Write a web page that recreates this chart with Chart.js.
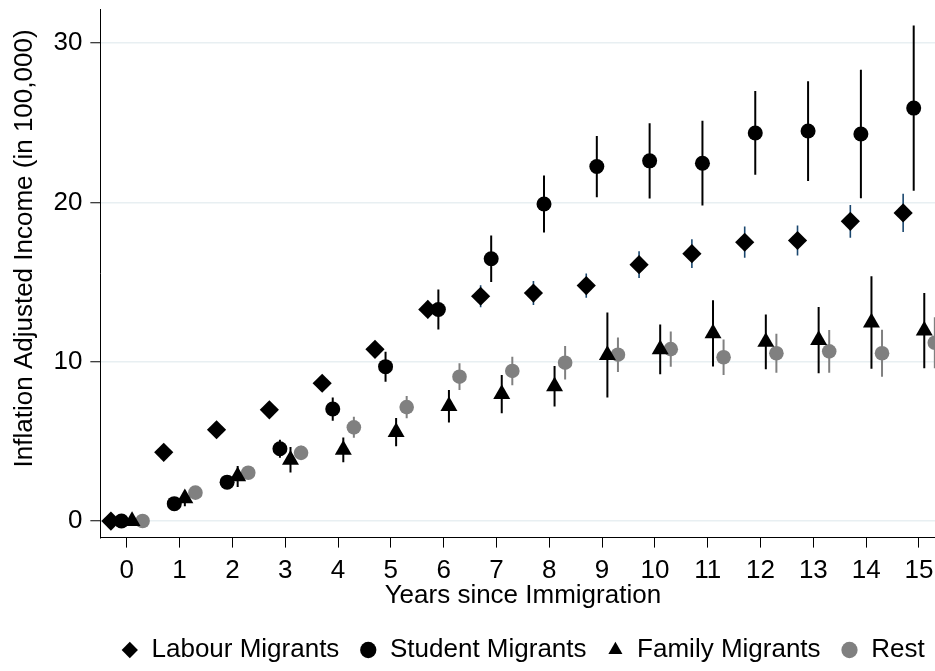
<!DOCTYPE html>
<html>
<head>
<meta charset="utf-8">
<script src="https://cdn.jsdelivr.net/npm/chart.js@4.4.1/dist/chart.umd.min.js"></script>
<style>
  html, body { margin: 0; padding: 0; background: #fff; overflow: hidden; }
  #wrap { position: relative; width: 960px; height: 680px; }
  canvas { display: block; }
</style>
</head>
<body>
<div id="wrap"><canvas id="chart" width="960" height="680"></canvas></div>
<script>
// Years since immigration
const years = [0, 1, 2, 3, 4, 5, 6, 7, 8, 9, 10, 11, 12, 13, 14, 15];

// Mean inflation adjusted income (in 100,000) and half-width of the confidence interval
const labourIncome  = [0, 4.31, 5.73, 6.98, 8.65, 10.78, 13.28, 14.11, 14.31, 14.78, 16.09, 16.78, 17.50, 17.61, 18.81, 19.34];
const labourCI      = [0, 0.30, 0.35, 0.40, 0.45, 0.50, 0.55, 0.69, 0.75, 0.76, 0.84, 0.90, 0.98, 0.94, 1.03, 1.20];

const studentIncome = [0, 1.09, 2.44, 4.54, 7.03, 9.69, 13.28, 16.46, 19.90, 22.25, 22.61, 22.46, 24.36, 24.48, 24.29, 25.92];
const studentCI     = [0, 0.30, 0.40, 0.56, 0.73, 0.94, 1.25, 1.46, 1.79, 1.92, 2.36, 2.66, 2.63, 3.13, 4.03, 5.19];

const familyIncome  = [0, 1.42, 2.80, 3.84, 4.47, 5.58, 7.21, 7.97, 8.46, 10.42, 10.78, 11.78, 11.24, 11.36, 12.46, 11.95];
const familyCI      = [0, 0.50, 0.66, 0.80, 0.78, 0.88, 1.02, 1.20, 1.27, 2.67, 1.56, 2.08, 1.72, 2.08, 2.90, 2.36];

const restIncome    = [0, 1.78, 3.03, 4.28, 5.88, 7.15, 9.06, 9.42, 9.94, 10.44, 10.79, 10.28, 10.53, 10.65, 10.53, 11.19];
const restCI        = [0, 0.25, 0.35, 0.45, 0.66, 0.70, 0.84, 0.89, 1.05, 1.08, 1.10, 1.12, 1.22, 1.34, 1.48, 1.60];

const seriesNames = ['Labour Migrants', 'Student Migrants', 'Family Migrants', 'Rest'];

// Axis ticks
const xTicks = [0, 1, 2, 3, 4, 5, 6, 7, 8, 9, 10, 11, 12, 13, 14, 15];
const yTicks = [0, 10, 20, 30];

const FONT = "'Liberation Sans', Arial, Helvetica, sans-serif";
Chart.defaults.font.family = FONT;
Chart.defaults.color = '#000';

// Markers are dodged around each year so the four groups sit side by side
function points(values, shift) {
  return years.map((yr, i) => ({ x: yr + shift, y: values[i] }));
}

function series(label, values, ci, shift, style, radius, color, ciColor, ciWidth) {
  return {
    label,
    data: points(values, shift),
    ci,
    ciColor,
    ciWidth,
    pointStyle: style,
    pointRadius: radius,
    pointHoverRadius: radius,
    pointBorderWidth: 0,
    backgroundColor: color,
    borderColor: color,
    borderWidth: 0,
    showLine: false
  };
}

// Vertical confidence-interval spikes, drawn under the markers
const ciSpikes = {
  id: 'ciSpikes',
  beforeDatasetsDraw(chart) {
    const { ctx, chartArea, scales: { x, y } } = chart;
    ctx.save();
    ctx.beginPath();
    ctx.rect(chartArea.left, chartArea.top, chartArea.width, chartArea.height);
    ctx.clip();
    ctx.lineCap = 'butt';
    chart.data.datasets.forEach(ds => {
      ctx.strokeStyle = ds.ciColor;
      ctx.lineWidth = ds.ciWidth;
      ds.data.forEach((p, i) => {
        const h = ds.ci[i];
        if (!h) return;
        const px = x.getPixelForValue(p.x);
        ctx.beginPath();
        ctx.moveTo(px, y.getPixelForValue(p.y - h));
        ctx.lineTo(px, y.getPixelForValue(p.y + h));
        ctx.stroke();
      });
    });
    ctx.restore();
  }
};

new Chart(document.getElementById('chart'), {
  type: 'scatter',
  data: {
    datasets: [
      series(seriesNames[0], labourIncome,  labourCI,  -0.3, 'rectRot',  9.6, '#000000', '#1a476f', 1.6),
      series(seriesNames[1], studentIncome, studentCI, -0.1, 'circle',   7.5, '#000000', '#000000', 2),
      series(seriesNames[2], familyIncome,  familyCI,   0.1, 'triangle', 9.8, '#000000', '#000000', 2),
      series(seriesNames[3], restIncome,    restCI,     0.3, 'circle',   7.3, '#808080', '#808080', 2)
    ]
  },
  options: {
    responsive: false,
    animation: false,
    events: [],
    layout: { padding: { top: 6.8, right: 14.6, bottom: 7, left: 0 } },
    plugins: {
      tooltip: { enabled: false },
      legend: {
        position: 'bottom',
        fullSize: false,
        labels: {
          usePointStyle: true,
          boxWidth: 17.4,
          boxHeight: 11.5,
          padding: 20.2,
          color: '#000',
          font: { size: 26, family: FONT }
        }
      }
    },
    scales: {
      x: {
        type: 'linear',
        min: -0.5,
        max: 15.5,
        afterBuildTicks(scale) { scale.ticks = xTicks.map(v => ({ value: v })); },
        afterFit(scale) { scale.height = 79.2; scale.paddingLeft = 0; scale.paddingRight = 0; },
        grid: { drawOnChartArea: false, drawTicks: true, tickLength: 10, tickColor: '#000', tickWidth: 1 },
        border: { display: true, color: '#000', width: 1 },
        ticks: { autoSkip: false, maxRotation: 0, padding: 7.5, color: '#000', font: { size: 26, family: FONT } },
        title: { display: true, text: 'Years since Immigration', color: '#000', font: { size: 26, family: FONT }, padding: { top: 0, bottom: 5 } }
      },
      y: {
        type: 'linear',
        min: -1.04,
        max: 32.09,
        afterBuildTicks(scale) { scale.ticks = yTicks.map(v => ({ value: v })); },
        afterFit(scale) { scale.width = 100.35; scale.paddingTop = 0; scale.paddingBottom = 0; },
        grid: { color: '#e8eff2', lineWidth: 1.5, drawTicks: true, tickLength: 10, tickColor: '#000', tickWidth: 1 },
        border: { display: true, color: '#000', width: 1 },
        ticks: { padding: 8, color: '#000', font: { size: 26, family: FONT } },
        title: { display: true, text: '       Inflation Adjusted Income (in 100,000)', color: '#000', font: { size: 26, family: FONT }, padding: { top: 9.5, bottom: 0 } }
      }
    }
  },
  plugins: [ciSpikes]
});
</script>
</body>
</html>
